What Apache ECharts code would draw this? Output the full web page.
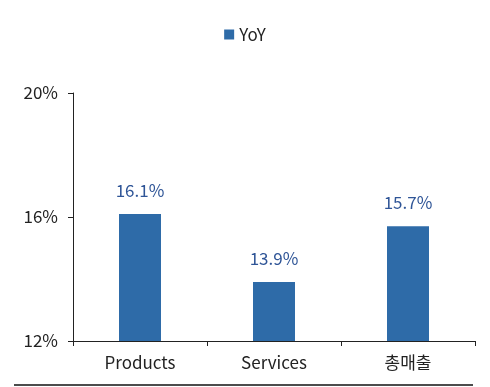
<!DOCTYPE html>
<html><head><meta charset="utf-8">
<script src="https://cdn.jsdelivr.net/npm/echarts@6/dist/echarts.min.js"></script>
<style>html,body{margin:0;padding:0;background:#fff}#c{width:490px;height:387px}</style>
</head><body><div id="c"></div>
<script>
const categories = ['Products', 'Services', '총매출'];
const yoyValues = [16.1, 13.9, 15.7];
const yTicks = [12, 16, 20];
const font = '"Noto Sans CJK KR", "Noto Sans", sans-serif';
const chart = echarts.init(document.getElementById('c'), null, {renderer: 'canvas'});
chart.setOption({
  animation: false,
  textStyle: {fontFamily: font},
  legend: {
    top: 21, left: 'center', itemWidth: 10, itemHeight: 10, itemGap: 5,
    icon: 'rect',
    textStyle: {fontSize: 17, color: '#222', fontFamily: font},
    data: ['YoY']
  },
  grid: {left: 73, right: 15, top: 93, bottom: 46},
  xAxis: {
    type: 'category', data: categories,
    axisLine: {lineStyle: {color: '#222', width: 1}},
    axisTick: {show: true, alignWithLabel: false, length: 5, inside: false, lineStyle: {color: '#222'}},
    axisLabel: {fontSize: 17, color: '#222', margin: 13, fontFamily: font}
  },
  yAxis: {
    type: 'value', min: 12, max: 20, interval: 4,
    axisLine: {show: true, lineStyle: {color: '#222', width: 1}},
    axisTick: {show: true, length: 5, lineStyle: {color: '#222'}},
    splitLine: {show: false},
    axisLabel: {fontSize: 17, color: '#222', margin: 15, fontFamily: font,
      formatter: v => yTicks.includes(v) ? v + '%' : ''}
  },
  series: [{
    name: 'YoY', type: 'bar', data: yoyValues, barWidth: 42,
    itemStyle: {color: '#2E6BA8'},
    label: {show: true, position: 'top', distance: 15, fontSize: 17, color: '#2F5597',
      fontFamily: font, formatter: p => p.value.toFixed(1) + '%'}
  }],
  graphic: [{
    type: 'line', shape: {x1: 14, y1: 385, x2: 473, y2: 385},
    style: {stroke: '#111', lineWidth: 1.5}
  }]
});
</script></body></html>
